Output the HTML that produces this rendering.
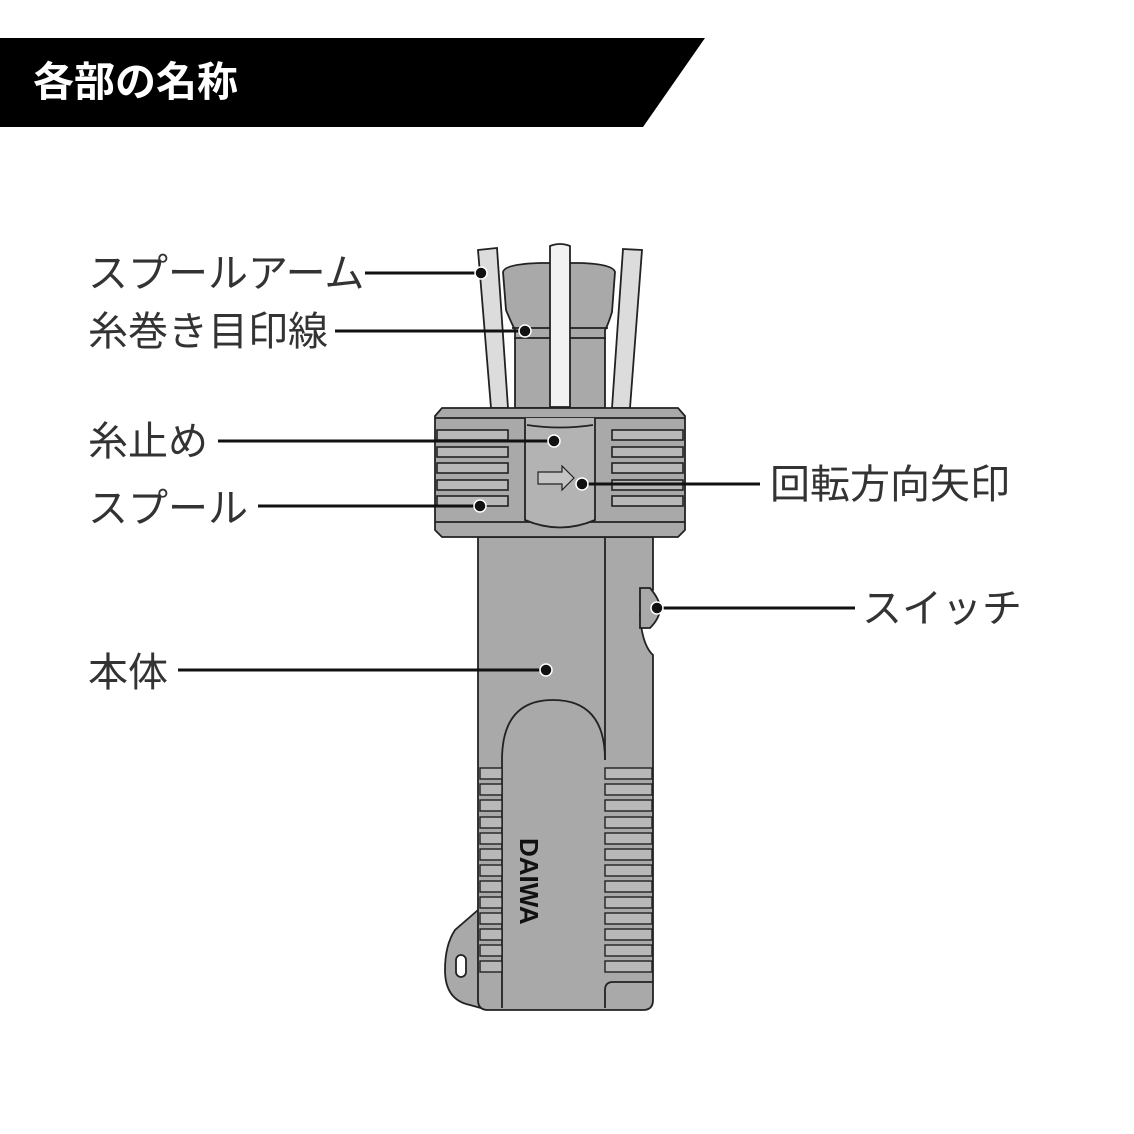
<!DOCTYPE html>
<html><head><meta charset="utf-8"><style>
body{margin:0;width:1134px;height:1134px;background:#fff;overflow:hidden}
svg{display:block}
text{font-family:"Liberation Sans","Noto Sans CJK JP",sans-serif}
</style></head><body>
<svg width="1134" height="1134" viewBox="0 0 1134 1134">
<polygon points="0,38 705,38 643,127 0,127" fill="#000"/>
<text x="33" y="96" font-size="41" font-weight="bold" fill="#fff">各部の名称</text>

<g stroke="#222" stroke-width="1.8" fill="#a9a9a9">
<path d="M503,272 Q505,264 540,263 L580,263 Q613,264 615,272 L612,312 Q608,325 605,330 L605,408 L515,408 L515,330 Q510,320 506,310 Z"/>
<line x1="512" y1="328" x2="608" y2="328"/><line x1="514" y1="338" x2="606" y2="338"/>
<path d="M478,250 L497,248 L508,408 L491,408 Z" fill="#dcdcdc"/>
<path d="M550,246 Q560,242 570,246 L570,407 L550,407 Z" fill="#f2f2f2"/>
<path d="M623,249 L642,250 L630,408 L612,408 Z" fill="#dcdcdc"/>
<path d="M478,910 L455,930 Q445,945 445,970 Q445,1000 470,1005 L488,1010" fill="#a9a9a9"/>
<path d="M478,537 L653,537 L653,590 Q640,600 640,615 Q642,645 653,655 L653,1000 Q653,1010 643,1010 L488,1010 Q478,1010 478,1000 Z"/>
<rect x="456" y="955" width="10" height="22" rx="5" fill="#fff"/>
<line x1="605" y1="537" x2="605" y2="760"/>
<path d="M502,1008 L502,760 Q502,700 553,700 Q605,700 605,760" fill="none"/>
<path d="M605,1008 L605,990 Q605,982 613,982 L653,982" fill="none"/>
<path d="M640,588 L650,588 Q660,600 660,608 Q660,618 650,628 L640,628 Z"/>
<path d="M442,408 L678,408 L685,416 L685,530 L678,537 L442,537 L435,530 L435,416 Z"/>
<line x1="435" y1="418" x2="685" y2="418"/>
<line x1="435" y1="522" x2="685" y2="522"/>
<path d="M525,418 L525,520 Q560,535 595,520 L595,418" fill="#b3b3b3"/>
<path d="M527,425 Q560,430 593,425" fill="none"/>
<path d="M538,472 L562,472 L562,466 L574,478 L562,490 L562,484 L538,484 Z" fill="#c4c4c4" stroke-width="1.2"/>
</g>
<g stroke="#222" stroke-width="1.6" fill="#b8b8b8">
<rect x="437" y="430" width="71" height="10"/><rect x="437" y="447" width="71" height="10"/><rect x="437" y="463" width="71" height="10"/><rect x="437" y="480" width="71" height="10"/><rect x="437" y="496" width="71" height="10"/>
<rect x="612" y="430" width="71" height="10"/><rect x="612" y="447" width="71" height="10"/><rect x="612" y="463" width="71" height="10"/><rect x="612" y="480" width="71" height="10"/><rect x="612" y="496" width="71" height="10"/>
</g>
<g stroke="#222" stroke-width="1.4" fill="#b8b8b8">
<rect x="480" y="768" width="22" height="11"/><rect x="480" y="784" width="22" height="11"/><rect x="480" y="800" width="22" height="11"/><rect x="480" y="817" width="22" height="11"/><rect x="480" y="833" width="22" height="11"/><rect x="480" y="849" width="22" height="11"/><rect x="480" y="865" width="22" height="11"/><rect x="480" y="881" width="22" height="11"/><rect x="480" y="897" width="22" height="11"/><rect x="480" y="913" width="22" height="11"/><rect x="480" y="929" width="22" height="11"/><rect x="480" y="945" width="22" height="11"/><rect x="480" y="961" width="22" height="11"/>
<rect x="605" y="768" width="47" height="11"/><rect x="605" y="784" width="47" height="11"/><rect x="605" y="800" width="47" height="11"/><rect x="605" y="817" width="47" height="11"/><rect x="605" y="833" width="47" height="11"/><rect x="605" y="849" width="47" height="11"/><rect x="605" y="865" width="47" height="11"/><rect x="605" y="881" width="47" height="11"/><rect x="605" y="897" width="47" height="11"/><rect x="605" y="913" width="47" height="11"/><rect x="605" y="929" width="47" height="11"/><rect x="605" y="945" width="47" height="11"/><rect x="605" y="961" width="47" height="11"/>
</g>
<text x="0" y="0" font-size="26" font-weight="bold" fill="#111" transform="translate(520,838) rotate(90)">DAIWA</text>

<g stroke="#111" stroke-width="3">
<line x1="365" y1="273" x2="481" y2="273"/>
<line x1="335" y1="331" x2="525" y2="331"/>
<line x1="218" y1="441" x2="554" y2="441"/>
<line x1="258" y1="506" x2="480" y2="506"/>
<line x1="582" y1="484" x2="760" y2="484"/>
<line x1="657" y1="608" x2="855" y2="608"/>
<line x1="178" y1="670" x2="546" y2="670"/>
</g>
<g fill="#111" stroke="#fff" stroke-width="1.5">
<circle cx="481" cy="273" r="6"/><circle cx="525" cy="331" r="6"/><circle cx="554" cy="441" r="6"/><circle cx="480" cy="506" r="6"/><circle cx="582" cy="484" r="6"/><circle cx="657" cy="608" r="6"/><circle cx="546" cy="670" r="6"/>
</g>
<g font-size="40" fill="#333">
<text x="88" y="287">スプールアーム</text>
<text x="88" y="345">糸巻き目印線</text>
<text x="88" y="455">糸止め</text>
<text x="88" y="522">スプール</text>
<text x="770" y="498">回転方向矢印</text>
<text x="862" y="622">スイッチ</text>
<text x="88" y="686">本体</text>
</g>
</svg>
</body></html>
